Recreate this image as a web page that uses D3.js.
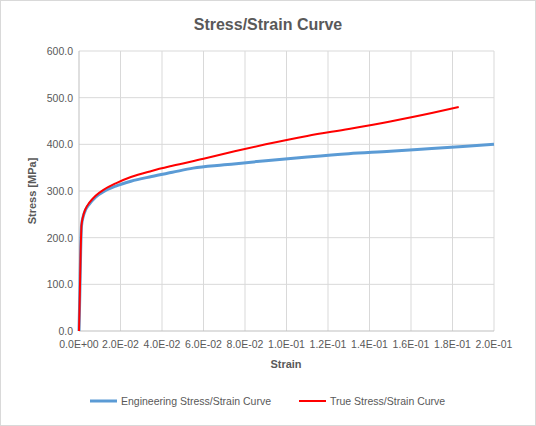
<!DOCTYPE html>
<html><head><meta charset="utf-8">
<script src="https://cdn.jsdelivr.net/npm/d3@7"></script>
<style>body{margin:0;background:#fff;font-family:"Liberation Sans",Arial,sans-serif;}</style>
</head><body><svg id="chart" width="536" height="426"></svg>
<script>
// engineering curve [strain, stress]
const engStrain = [0, 0.0004, 0.0008, 0.0012, 0.002, 0.003, 0.005, 0.008, 0.012, 0.018, 0.025, 0.035, 0.045, 0.055, 0.07, 0.09, 0.11, 0.13, 0.15, 0.17, 0.2];
const engStress = [0, 80, 170, 225, 245, 258, 272, 287, 299, 311, 321, 331, 340, 349, 356, 365, 373, 380, 385, 391, 400];
const trueStrain = [0, 0.0004, 0.0008, 0.0012, 0.002, 0.003, 0.005, 0.008, 0.012, 0.018, 0.025, 0.035, 0.045, 0.06, 0.075, 0.09, 0.11, 0.13, 0.15, 0.17, 0.183];
const trueStress = [0, 80, 170, 226, 246, 260, 275, 290, 303, 317, 330, 343, 354, 369, 385, 400, 418, 433, 449, 467, 480];
const xTicks = [0, 0.02, 0.04, 0.06, 0.08, 0.1, 0.12, 0.14, 0.16, 0.18, 0.2];
const yTicks = [0, 100, 200, 300, 400, 500, 600];

const svg = d3.select("#chart");
svg.append("rect").attr("x",0.5).attr("y",0.5).attr("width",535).attr("height",425).attr("fill","#fff").attr("stroke","#d9d9d9");

const x = d3.scaleLinear().domain([0, 0.2]).range([79, 494]);
const y = d3.scaleLinear().domain([0, 600]).range([331, 51]);

const g = svg.append("g");
g.selectAll(".vg").data(xTicks.slice(1)).join("line")
  .attr("x1", d => x(d)).attr("x2", d => x(d)).attr("y1", y(0)).attr("y2", y(600))
  .attr("stroke", "#d9d9d9");
g.selectAll(".hg").data(yTicks.slice(1)).join("line")
  .attr("x1", x(0)).attr("x2", x(0.2)).attr("y1", d => y(d)).attr("y2", d => y(d))
  .attr("stroke", "#d9d9d9");
g.append("line").attr("x1", x(0)).attr("x2", x(0.2)).attr("y1", y(0)).attr("y2", y(0)).attr("stroke", "#bfbfbf");
g.append("line").attr("x1", x(0)).attr("x2", x(0)).attr("y1", y(0)).attr("y2", y(600)).attr("stroke", "#bfbfbf");

const fmtX = d => {
  if (d === 0) return "0.0E+00";
  const e = Math.floor(Math.log10(d) + 1e-9);
  const m = d / Math.pow(10, e);
  return m.toFixed(1) + "E-" + String(-e).padStart(2, "0");
};
g.selectAll(".xt").data(xTicks).join("text")
  .attr("x", d => x(d)).attr("y", y(0) + 17).attr("text-anchor", "middle")
  .attr("font-size", 10.5).attr("fill", "#595959").text(fmtX);
g.selectAll(".yt").data(yTicks).join("text")
  .attr("x", x(0) - 6).attr("y", d => y(d) + 4).attr("text-anchor", "end")
  .attr("font-size", 10.5).attr("fill", "#595959").text(d => d.toFixed(1));

const line = d3.line().x(d => x(d[0])).y(d => y(d[1])).curve(d3.curveMonotoneX);
svg.append("path").datum(d3.zip(engStrain, engStress)).attr("d", line)
  .attr("fill", "none").attr("stroke", "#5b9bd5").attr("stroke-width", 3);
svg.append("path").datum(d3.zip(trueStrain, trueStress)).attr("d", line)
  .attr("fill", "none").attr("stroke", "#ff0000").attr("stroke-width", 2);

svg.append("text").attr("x", 268).attr("y", 30).attr("text-anchor", "middle")
  .attr("font-size", 16).attr("font-weight", "bold").attr("fill", "#595959").text("Stress/Strain Curve");
svg.append("text").attr("x", 286).attr("y", 368).attr("text-anchor", "middle")
  .attr("font-size", 11).attr("font-weight", "bold").attr("fill", "#595959").text("Strain");
svg.append("text").attr("transform", `translate(36,${y(300)}) rotate(-90)`).attr("text-anchor", "middle")
  .attr("font-size", 11).attr("font-weight", "bold").attr("fill", "#595959").text("Stress [MPa]");

const legend = [["Engineering Stress/Strain Curve", "#5b9bd5", 3, 90], ["True Stress/Strain Curve", "#ff0000", 2, 299]];
legend.forEach(([t, c, w, lx]) => {
  svg.append("line").attr("x1", lx).attr("x2", lx + 27).attr("y1", 401).attr("y2", 401).attr("stroke", c).attr("stroke-width", w);
  svg.append("text").attr("x", lx + 31).attr("y", 405).attr("font-size", 10.5).attr("fill", "#595959").text(t);
});
</script></body></html>
